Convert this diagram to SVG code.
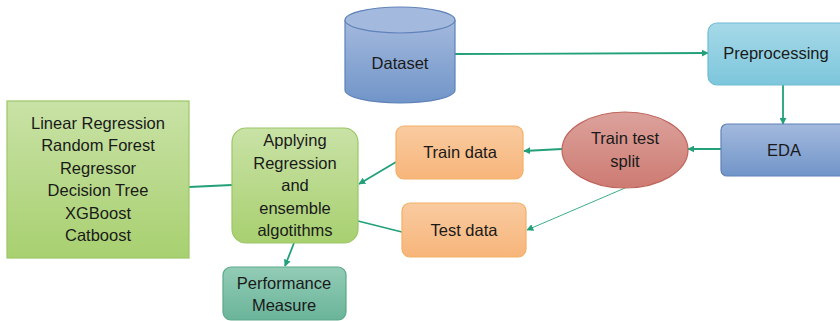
<svg xmlns="http://www.w3.org/2000/svg" width="840" height="321" viewBox="0 0 840 321">
  <defs>
    <linearGradient id="gBlue" x1="0" y1="0" x2="0" y2="1">
      <stop offset="0" stop-color="#a3b9dd"/>
      <stop offset="1" stop-color="#7195c9"/>
    </linearGradient>
    <linearGradient id="gCyan" x1="0" y1="0" x2="0" y2="1">
      <stop offset="0" stop-color="#a6d9e8"/>
      <stop offset="1" stop-color="#7dc6dc"/>
    </linearGradient>
    <linearGradient id="gRed" x1="0" y1="0" x2="0" y2="1">
      <stop offset="0" stop-color="#dca29c"/>
      <stop offset="1" stop-color="#cd7b72"/>
    </linearGradient>
    <linearGradient id="gOrange" x1="0" y1="0" x2="0" y2="1">
      <stop offset="0" stop-color="#f9cba0"/>
      <stop offset="1" stop-color="#f7b57a"/>
    </linearGradient>
    <linearGradient id="gGreen" x1="0" y1="0" x2="0" y2="1">
      <stop offset="0" stop-color="#c9e2a6"/>
      <stop offset="1" stop-color="#a8d070"/>
    </linearGradient>
    <linearGradient id="gTeal" x1="0" y1="0" x2="0" y2="1">
      <stop offset="0" stop-color="#93ccb6"/>
      <stop offset="1" stop-color="#6ab49a"/>
    </linearGradient>
    <marker id="arrow" viewBox="0 0 10 10" refX="9" refY="5" markerWidth="7" markerHeight="7" markerUnits="userSpaceOnUse" orient="auto">
      <path d="M0,0 L10,5 L0,10 z" fill="#22a07a"/>
    </marker>
  </defs>
  <style>
    text { font-family: "Liberation Sans", Arial, sans-serif; font-size: 16.5px; fill: #1a1a1a; text-anchor: middle; }
    .conn { stroke: #22a07a; stroke-width: 1.8; fill: none; }
    .thin { stroke: #3db08a; stroke-width: 1; fill: none; }
  </style>

  <!-- connectors -->
  <g id="connectors">
    <line class="conn" x1="455" y1="54" x2="708" y2="53" marker-end="url(#arrow)"/>
    <line class="conn" x1="783" y1="85" x2="783" y2="124" marker-end="url(#arrow)"/>
    <line class="conn" x1="721" y1="149" x2="688" y2="149" marker-end="url(#arrow)"/>
    <line class="conn" x1="562" y1="149" x2="524" y2="151" marker-end="url(#arrow)"/>
    <line class="thin" x1="625" y1="188" x2="527" y2="230" marker-end="url(#arrow)"/>
    <line class="conn" x1="396" y1="162" x2="359" y2="184" marker-end="url(#arrow)"/>
    <line class="conn" x1="402" y1="232" x2="358" y2="221"/>
    <line class="conn" x1="189" y1="187" x2="232" y2="185"/>
    <line class="conn" x1="294" y1="243" x2="285" y2="266" marker-end="url(#arrow)"/>
  </g>

  <!-- Dataset cylinder -->
  <g id="dataset">
    <path d="M345,20 V90 A55,13 0 0 0 455,90 V20" fill="url(#gBlue)" stroke="#5f82b8" stroke-width="1.2"/>
    <ellipse cx="400" cy="20" rx="55" ry="13" fill="#a3b9dd" stroke="#5f82b8" stroke-width="1.2"/>
    <text x="400" y="69">Dataset</text>
  </g>

  <g id="preprocessing">
    <rect x="708" y="23" width="140" height="62" rx="9" fill="url(#gCyan)" stroke="#6fbcd3" stroke-width="1.2"/>
    <text x="776" y="59">Preprocessing</text>
  </g>

  <g id="eda">
    <rect x="721" y="124" width="127" height="52" rx="6" fill="url(#gBlue)" stroke="#5f82b8" stroke-width="1.2"/>
    <text x="784" y="156">EDA</text>
  </g>

  <g id="split">
    <ellipse cx="625" cy="150" rx="63" ry="38" fill="url(#gRed)" stroke="#c0655c" stroke-width="1.2"/>
    <text x="625" y="144">Train test</text>
    <text x="625" y="167">split</text>
  </g>

  <g id="train-data">
    <rect x="396" y="126" width="127" height="53" rx="8" fill="url(#gOrange)" stroke="#f3b066" stroke-width="1.2"/>
    <text x="460" y="158">Train data</text>
  </g>

  <g id="test-data">
    <rect x="402" y="203" width="124" height="54" rx="8" fill="url(#gOrange)" stroke="#f3b066" stroke-width="1.2"/>
    <text x="464" y="236">Test data</text>
  </g>

  <g id="models">
    <rect x="7" y="101" width="182" height="157" fill="url(#gGreen)" stroke="#9cc666" stroke-width="1.2"/>
    <text x="98" y="129">Linear Regression</text>
    <text x="98" y="151">Random Forest</text>
    <text x="98" y="174">Regressor</text>
    <text x="98" y="196">Decision Tree</text>
    <text x="98" y="219">XGBoost</text>
    <text x="98" y="241">Catboost</text>
  </g>

  <g id="applying">
    <rect x="232" y="128" width="126" height="115" rx="14" fill="url(#gGreen)" stroke="#9cc666" stroke-width="1.2"/>
    <text x="295" y="146">Applying</text>
    <text x="295" y="169">Regression</text>
    <text x="295" y="191">and</text>
    <text x="295" y="214">ensemble</text>
    <text x="295" y="236">algotithms</text>
  </g>

  <g id="performance">
    <rect x="223" y="267" width="123" height="53" rx="8" fill="url(#gTeal)" stroke="#5aa889" stroke-width="1.2"/>
    <text x="284" y="289">Performance</text>
    <text x="284" y="311">Measure</text>
  </g>
</svg>
